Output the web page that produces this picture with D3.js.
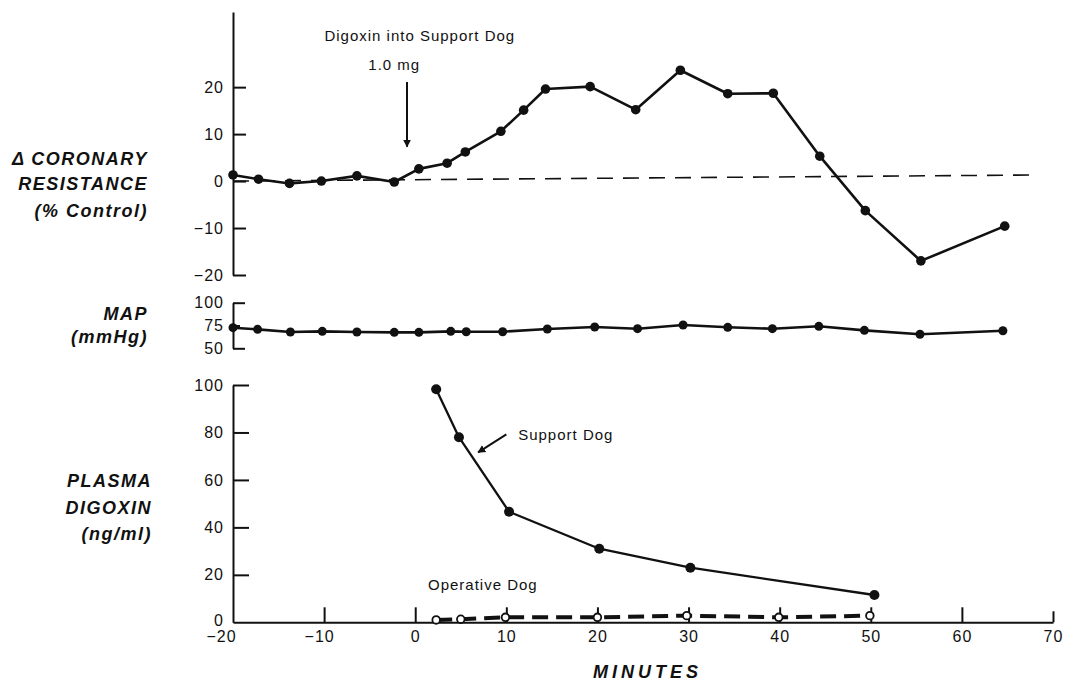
<!DOCTYPE html>
<html>
<head>
<meta charset="utf-8">
<script src="https://cdn.jsdelivr.net/npm/d3@7"></script>
<style>
  html, body { margin: 0; padding: 0; background: #fff; }
  svg { display: block; }
  .tick text { font-family: "Liberation Sans", Arial, sans-serif; font-size: 16px; letter-spacing: 1px; fill: #111; }
  .ylab { font-family: "Liberation Sans", Arial, sans-serif; font-weight: bold; font-style: italic; font-size: 18px; letter-spacing: 1.5px; fill: #111; }
  .note { font-family: "Liberation Sans", Arial, sans-serif; font-size: 15px; letter-spacing: 1px; fill: #111; }
</style>
</head>
<body>
<svg id="chart" width="1067" height="681"></svg>
<script>
// ---------------- DATA ----------------
const minuteTicks = [-20, -10, 0, 10, 20, 30, 40, 50, 60, 70];

const coronaryTicks = [20, 10, 0, -10, -20];
const coronaryMinutes = [-20, -17.2, -13.8, -10.3, -6.4, -2.3, 0.4, 3.5, 5.5, 9.4, 11.9, 14.3, 19.2, 24.2, 29.1, 34.3, 39.3, 44.4, 49.4, 55.5, 64.7];
const coronaryValues  = [1.3, 0.4, -0.5, 0, 1.1, -0.2, 2.6, 3.8, 6.2, 10.6, 15.1, 19.6, 20.1, 15.2, 23.6, 18.6, 18.7, 5.3, -6.3, -17.0, -9.6];
const refLineMinutes = [-20, 68.3];
const refLineValues  = [0, 1.3];

const mapTicks = [100, 75, 50];
const mapMinutes = [-20, -17.3, -13.7, -10.2, -6.4, -2.3, 0.4, 3.9, 5.6, 9.6, 14.5, 19.7, 24.4, 29.4, 34.3, 39.2, 44.3, 49.3, 55.4, 64.5];
const mapValues  = [72.6, 70.8, 67.9, 68.6, 67.9, 67.5, 67.5, 68.6, 68.2, 68.2, 71.2, 73.4, 71.5, 75.5, 73.0, 71.5, 74.1, 69.7, 65.4, 69.3];

const digoxinTicks = [0, 20, 40, 60, 80, 100];
const supportMinutes = [2.3, 4.8, 10.3, 20.2, 30.2, 50.4];
const supportValues  = [98.2, 78.0, 46.6, 31.0, 23.0, 11.5];
const operativeMinutes = [2.3, 5.0, 9.9, 20, 29.8, 39.9, 49.9];
const operativeValues  = [1.0, 1.3, 2.1, 2.1, 2.8, 2.1, 2.8];

// ---------------- SCALES ----------------
const svg = d3.select("#chart");
const x = d3.scaleLinear().domain([-20, 70]).range([233, 1053]);
const yCor = d3.scaleLinear().domain([-20, 36]).range([275, 12]);
const yMap = d3.scaleLinear().domain([50, 100]).range([348.3, 302.7]);
const yDig = d3.scaleLinear().domain([0, 100]).range([622.3, 385]);

const fmt = d => d3.format("")(d).replace("-", "\u2212");

function styleAxis(g) {
  g.selectAll(".domain").attr("stroke", "#111").attr("stroke-width", 2);
  g.selectAll(".tick line").attr("stroke", "#111").attr("stroke-width", 2);
}

// ---------------- TOP PANEL: coronary resistance ----------------
const axCor = svg.append("g").attr("transform", `translate(${x(-20)},0)`)
  .call(d3.axisLeft(yCor).tickValues(coronaryTicks).tickSizeInner(-13).tickSizeOuter(0).tickPadding(9).tickFormat(fmt));
styleAxis(axCor);
axCor.selectAll(".tick text").attr("dy", "0.36em");

svg.append("path")
  .datum(refLineMinutes.map((m, i) => [m, refLineValues[i]]))
  .attr("fill", "none").attr("stroke", "#111").attr("stroke-width", 1.6)
  .attr("stroke-dasharray", "16,10")
  .attr("d", d3.line().x(d => x(d[0])).y(d => yCor(d[1])));

const corData = coronaryMinutes.map((m, i) => [m, coronaryValues[i]]);
svg.append("path").datum(corData)
  .attr("fill", "none").attr("stroke", "#111").attr("stroke-width", 2.6).attr("stroke-linejoin", "round")
  .attr("d", d3.line().x(d => x(d[0])).y(d => yCor(d[1])));
svg.selectAll(".corPt").data(corData).join("circle")
  .attr("cx", d => x(d[0])).attr("cy", d => yCor(d[1])).attr("r", 4.8).attr("fill", "#111");

// annotation: Digoxin into support dog
svg.append("text").attr("class", "note").attr("text-anchor", "middle")
  .attr("x", x(0.5)).attr("y", yCor(29.8)).text("Digoxin into Support Dog");
svg.append("text").attr("class", "note").attr("text-anchor", "middle")
  .attr("x", x(-2.3)).attr("y", yCor(23.6)).text("1.0 mg");
svg.append("defs").append("marker").attr("id", "ah").attr("viewBox", "0 0 10 10")
  .attr("refX", 9).attr("refY", 5).attr("markerWidth", 4).attr("markerHeight", 5)
  .attr("markerUnits", "strokeWidth").attr("orient", "auto")
  .append("path").attr("d", "M0,0 L10,5 L0,10 Z").attr("fill", "#111");
svg.append("line")
  .attr("x1", x(-0.9)).attr("x2", x(-0.9)).attr("y1", yCor(21.1)).attr("y2", yCor(7.3))
  .attr("stroke", "#111").attr("stroke-width", 2).attr("marker-end", "url(#ah)");

// y label
[["\u0394 CORONARY", 165], ["RESISTANCE", 190], ["(% Control)", 217]].forEach(([t, yy]) =>
  svg.append("text").attr("class", "ylab").attr("text-anchor", "end").attr("x", 148).attr("y", yy).text(t));

// ---------------- MIDDLE PANEL: MAP ----------------
const axMap = svg.append("g").attr("transform", `translate(${x(-20)},0)`)
  .call(d3.axisLeft(yMap).tickValues(mapTicks).tickSizeInner(-12).tickSizeOuter(0).tickPadding(9).tickFormat(fmt));
styleAxis(axMap);
axMap.selectAll(".tick").filter(d => d === 75).select("line").attr("x2", 7);

const mapData = mapMinutes.map((m, i) => [m, mapValues[i]]);
svg.append("path").datum(mapData)
  .attr("fill", "none").attr("stroke", "#111").attr("stroke-width", 2.6).attr("stroke-linejoin", "round")
  .attr("d", d3.line().x(d => x(d[0])).y(d => yMap(d[1])));
svg.selectAll(".mapPt").data(mapData).join("circle")
  .attr("cx", d => x(d[0])).attr("cy", d => yMap(d[1])).attr("r", 4.5).attr("fill", "#111");

[["MAP", 320], ["(mmHg)", 343]].forEach(([t, yy]) =>
  svg.append("text").attr("class", "ylab").attr("text-anchor", "end").attr("x", 148).attr("y", yy).text(t));

// ---------------- BOTTOM PANEL: plasma digoxin ----------------
const axDig = svg.append("g").attr("transform", `translate(${x(-20)},0)`)
  .call(d3.axisLeft(yDig).tickValues(digoxinTicks).tickSizeInner(-16).tickSizeOuter(0).tickPadding(9).tickFormat(fmt));
styleAxis(axDig);
axDig.selectAll(".tick").filter(d => d === 0).select("line").remove();
axDig.selectAll(".tick").filter(d => d === 0).select("text").attr("dy", "0.2em");

const axX = svg.append("g").attr("transform", `translate(0,${yDig(0)})`)
  .call(d3.axisBottom(x).tickValues(minuteTicks).tickSizeInner(-15).tickSizeOuter(0).tickPadding(8).tickFormat(fmt));
styleAxis(axX);
axX.selectAll(".tick").filter(d => d === -20).select("line").remove();
axX.selectAll(".tick").filter(d => d === 70).select("line").attr("y2", -11);
axX.selectAll(".tick text").attr("dx", d => d === -20 ? -12 : (d < 0 ? -5 : 0));

const opData = operativeMinutes.map((m, i) => [m, operativeValues[i]]);
svg.append("path").datum(opData)
  .attr("fill", "none").attr("stroke", "#111").attr("stroke-width", 4)
  .attr("stroke-dasharray", "16,8")
  .attr("d", d3.line().x(d => x(d[0])).y(d => yDig(d[1])));
svg.selectAll(".opPt").data(opData).join("circle")
  .attr("cx", d => x(d[0])).attr("cy", d => yDig(d[1])).attr("r", 3.8)
  .attr("fill", "#fff").attr("stroke", "#111").attr("stroke-width", 1.8);

const supData = supportMinutes.map((m, i) => [m, supportValues[i]]);
svg.append("path").datum(supData)
  .attr("fill", "none").attr("stroke", "#111").attr("stroke-width", 2.3).attr("stroke-linejoin", "round")
  .attr("d", d3.line().x(d => x(d[0])).y(d => yDig(d[1])));
svg.selectAll(".supPt").data(supData).join("circle")
  .attr("cx", d => x(d[0])).attr("cy", d => yDig(d[1])).attr("r", 5).attr("fill", "#111");

// annotations
svg.append("text").attr("class", "note").attr("x", x(11.3)).attr("y", yDig(76.8)).text("Support Dog");
svg.append("line")
  .attr("x1", x(10.0)).attr("y1", yDig(79.2)).attr("x2", x(6.9)).attr("y2", yDig(71.6))
  .attr("stroke", "#111").attr("stroke-width", 2).attr("marker-end", "url(#ah)");
svg.append("text").attr("class", "note").attr("x", x(1.4)).attr("y", yDig(13.6)).text("Operative Dog");

[["PLASMA", 487], ["DIGOXIN", 514], ["(ng/ml)", 540]].forEach(([t, yy]) =>
  svg.append("text").attr("class", "ylab").attr("text-anchor", "end").attr("x", 152).attr("y", yy).text(t));

svg.append("text").attr("class", "ylab").attr("text-anchor", "middle")
  .attr("x", x(25.5)).attr("y", 678).style("letter-spacing", "4px").text("MINUTES");
</script>
</body>
</html>
